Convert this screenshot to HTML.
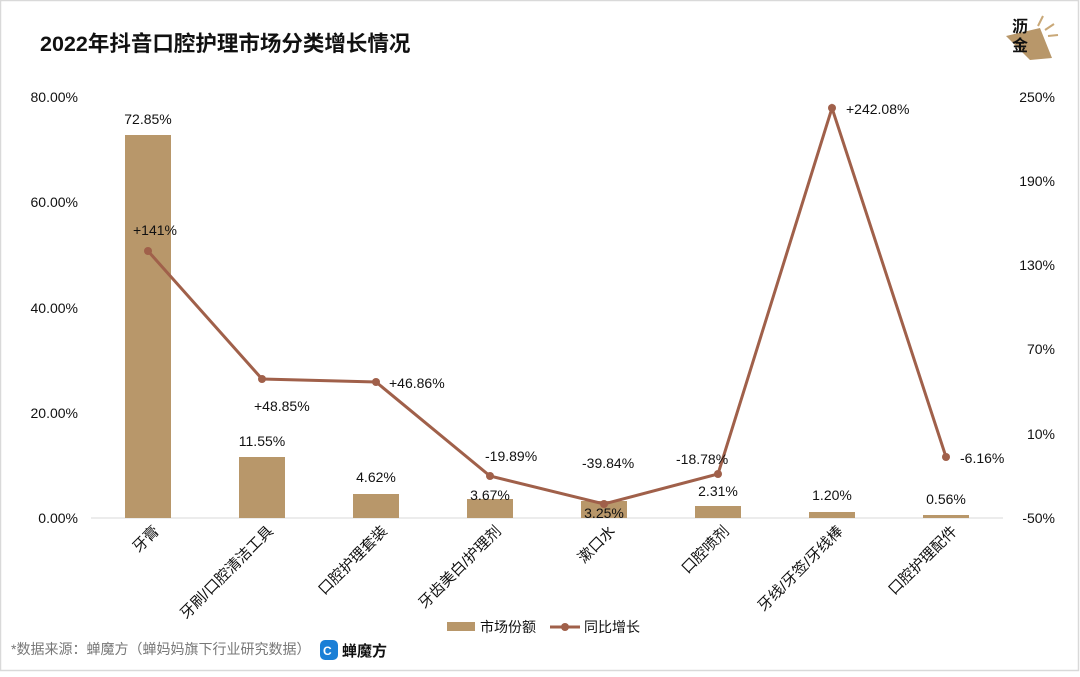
<!DOCTYPE html>
<html><head><meta charset="utf-8"><style>
body{margin:0;background:#fff;}
svg text{font-family:"Liberation Sans","Noto Sans CJK SC",sans-serif;}
</style></head><body>
<svg width="1080" height="672" viewBox="0 0 1080 672" xmlns="http://www.w3.org/2000/svg">
<rect x="0.5" y="0.5" width="1078" height="670" fill="#fff" stroke="#d9d9d9" stroke-width="1.5"/>
<text x="40" y="51" font-size="21.5" font-weight="bold" fill="#111">2022年抖音口腔护理市场分类增长情况</text>
<!-- logo -->
<polygon points="1006,36 1040,28 1052,58 1030,60" fill="#b8976a"/>
<line x1="1038" y1="26" x2="1043" y2="16" stroke="#c9a878" stroke-width="2"/>
<line x1="1045" y1="30" x2="1054" y2="24" stroke="#c9a878" stroke-width="2"/>
<line x1="1048" y1="36" x2="1058" y2="35" stroke="#c9a878" stroke-width="2"/>
<text x="1012" y="32" font-size="16" font-weight="bold" fill="#111">沥</text>
<text x="1012" y="51" font-size="16" font-weight="bold" fill="#111">金</text>
<!-- left axis -->
<g font-size="14" fill="#111" text-anchor="end">
<text x="78" y="102">80.00%</text><text x="78" y="207">60.00%</text><text x="78" y="313">40.00%</text><text x="78" y="418">20.00%</text><text x="78" y="523">0.00%</text>
</g>
<g font-size="14" fill="#111" text-anchor="end">
<text x="1055" y="102">250%</text><text x="1055" y="186">190%</text><text x="1055" y="270">130%</text><text x="1055" y="354">70%</text><text x="1055" y="439">10%</text><text x="1055" y="523">-50%</text>
</g>
<line x1="91" y1="518" x2="1003" y2="518" stroke="#d9d9d9" stroke-width="1"/>
<!-- bars -->
<g fill="#b8976a">
<rect x="125" y="135" width="46" height="383"/>
<rect x="239" y="457" width="46" height="61"/>
<rect x="353" y="494" width="46" height="24"/>
<rect x="467" y="499" width="46" height="19"/>
<rect x="581" y="501" width="46" height="17"/>
<rect x="695" y="506" width="46" height="12"/>
<rect x="809" y="512" width="46" height="6"/>
<rect x="923" y="515" width="46" height="3"/>
</g>
<g font-size="14" fill="#111" text-anchor="middle">
<text x="148" y="124">72.85%</text><text x="262" y="446">11.55%</text><text x="376" y="482">4.62%</text><text x="490" y="500">3.67%</text><text x="604" y="518">3.25%</text><text x="718" y="496">2.31%</text><text x="832" y="500">1.20%</text><text x="946" y="504">0.56%</text>
</g>
<!-- line -->
<polyline points="148,251 262,379 376,382 490,476 604,504 718,474 832,108 946,457" fill="none" stroke="#a0604a" stroke-width="3"/>
<g fill="#a0604a">
<circle cx="148" cy="251" r="4"/><circle cx="262" cy="379" r="4"/><circle cx="376" cy="382" r="4"/><circle cx="490" cy="476" r="4"/><circle cx="604" cy="504" r="4"/><circle cx="718" cy="474" r="4"/><circle cx="832" cy="108" r="4"/><circle cx="946" cy="457" r="4"/>
</g>
<g font-size="14" fill="#111">
<text x="133" y="235">+141%</text><text x="254" y="411">+48.85%</text><text x="389" y="388">+46.86%</text><text x="485" y="461">-19.89%</text><text x="582" y="468">-39.84%</text><text x="676" y="464">-18.78%</text><text x="846" y="114">+242.08%</text><text x="960" y="463">-6.16%</text>
</g>
<!-- x labels -->
<g font-size="15" fill="#111" text-anchor="end">
<text transform="translate(160,532) rotate(-45)">牙膏</text>
<text transform="translate(274,532) rotate(-45)">牙刷/口腔清洁工具</text>
<text transform="translate(388,532) rotate(-45)">口腔护理套装</text>
<text transform="translate(502,532) rotate(-45)">牙齿美白/护理剂</text>
<text transform="translate(616,532) rotate(-45)">漱口水</text>
<text transform="translate(730,532) rotate(-45)">口腔喷剂</text>
<text transform="translate(844,532) rotate(-45)">牙线/牙签/牙线棒</text>
<text transform="translate(958,532) rotate(-45)">口腔护理配件</text>
</g>
<!-- legend -->
<rect x="447" y="622" width="28" height="9" fill="#b8976a"/>
<text x="480" y="632" font-size="14" fill="#111">市场份额</text>
<line x1="550" y1="627" x2="580" y2="627" stroke="#a0604a" stroke-width="3"/>
<circle cx="565" cy="627" r="4" fill="#a0604a"/>
<text x="584" y="632" font-size="14" fill="#111">同比增长</text>
<!-- source -->
<text x="11" y="654" font-size="14" fill="#777">*数据来源：蝉魔方（蝉妈妈旗下行业研究数据）</text>
<rect x="320" y="640" width="18" height="20" rx="5" fill="#1a7fd6"/>
<text x="323" y="655" font-size="12" font-weight="bold" fill="#fff">C</text>
<text x="342" y="656" font-size="15" font-weight="bold" fill="#111">蝉魔方</text>
</svg>
</body></html>
